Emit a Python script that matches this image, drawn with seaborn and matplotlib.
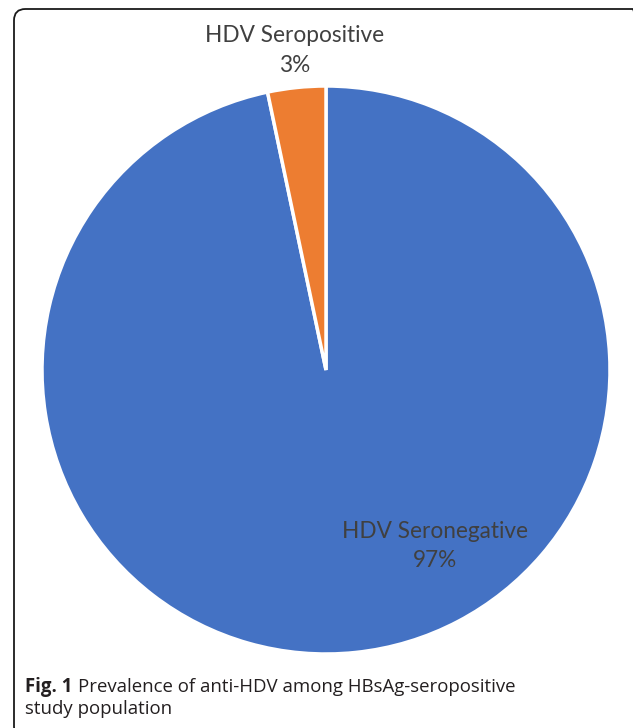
import matplotlib
matplotlib.use("Agg")
import matplotlib.pyplot as plt
from matplotlib.patches import FancyBboxPatch
import seaborn as sns

sns.set_theme(style="white")
plt.rcParams['font.family'] = ['Lato', 'DejaVu Sans']

# Data
categories = ["HDV Seronegative", "HDV Seropositive"]
values = [96.7, 3.3]
pct_labels = ["97%", "3%"]
colors = ["#4472C4", "#ED7D31"]

W, H = 633, 728
fig = plt.figure(figsize=(W / 100, H / 100), dpi=100)
fig.patch.set_facecolor("white")

# Pie axes: centre (326, 370) px from top, radius 284 px
cx, cy, r = 326, 370, 284
ax = fig.add_axes([(cx - r) / W, (H - cy - r) / H, 2 * r / W, 2 * r / H])
wedges, _ = ax.pie(values, colors=colors, startangle=90, counterclock=False,
                   radius=1.0,
                   wedgeprops=dict(edgecolor="white", linewidth=2.5))
ax.set_xlim(-1, 1)
ax.set_ylim(-1, 1)
ax.set_aspect("equal")
ax.axis("off")

# Data labels
label_pos = {"HDV Seronegative": (0.384, -0.62), "HDV Seropositive": (-0.109, 1.125)}
for cat, pct in zip(categories, pct_labels):
    x, y = label_pos[cat]
    ax.text(x, y, f"{cat}\n{pct}", ha="center", va="center", fontsize=16.3,
            color="#404040", linespacing=1.5, clip_on=False)

# Frame (rounded border)
frame = FancyBboxPatch((14 / W, -10 / H), (644 - 14) / W, (H - 9 + 10) / H,
                       boxstyle="round,pad=0,rounding_size=0.018",
                       transform=fig.transFigure, fill=False,
                       edgecolor="#1a1a1a", linewidth=1.3, mutation_aspect=W / H)
fig.add_artist(frame)

# Caption
cap_font = ["Open Sans", "DejaVu Sans"]
t1 = fig.text(25 / W, 1 - 692 / H, "Fig. 1", fontweight="bold", fontsize=13.4,
              family=cap_font, color="#231f20", va="baseline")
fig.canvas.draw()
bb = t1.get_window_extent(renderer=fig.canvas.get_renderer())
fig.text((bb.x1 + 6) / W, 1 - 692 / H, "Prevalence of anti-HDV among HBsAg-seropositive",
         fontsize=13.4, family=cap_font, color="#231f20", va="baseline")
fig.text(25 / W, 1 - 714 / H, "study population", fontsize=13.4,
         family=cap_font, color="#231f20", va="baseline")

fig.savefig("out.png", dpi=100, facecolor="white")
